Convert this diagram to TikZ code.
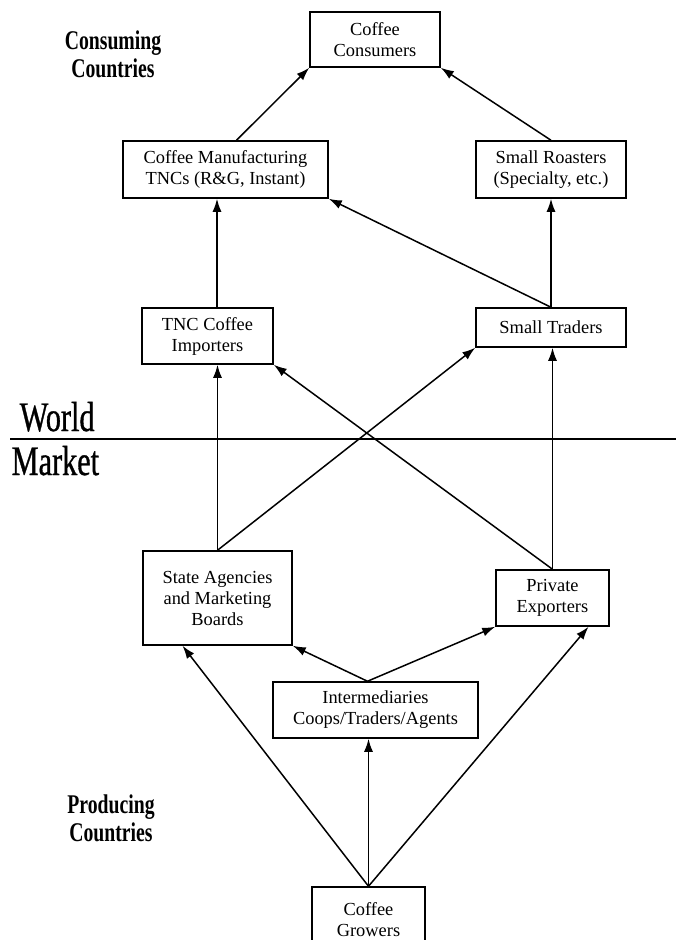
\documentclass[tikz,border=0pt]{standalone}
\usepackage{fontspec}
\setmainfont{Liberation Serif}
\newfontfamily\tallfont[FakeStretch=0.73]{Liberation Serif}
\newfontfamily\heavyfont[FakeStretch=0.72,FakeBold=0.8]{Liberation Serif}
\usetikzlibrary{arrows.meta}
\usetikzlibrary{calc}

\begin{document}
\begin{tikzpicture}[x=1pt, y=-1pt, line width=1.5pt,
  box/.style={draw, align=center, inner sep=0pt, font=\fontsize{18.4}{21}\selectfont},
  flow/.style={-{Latex[length=13pt,width=9pt]}},
  region/.style={align=center, font=\tallfont\bfseries\fontsize{27}{28}\selectfont},
  market/.style={anchor=base west, inner sep=0pt, font=\heavyfont\fontsize{42}{42}\selectfont}]
  \useasboundingbox (0,0) rectangle (676,940);
  \clip (0,0) rectangle (676,940);

  \node[box, minimum width=130, minimum height=55] (cons) at (375,39.5) {Coffee\\Consumers};
  \node[box, minimum width=205, minimum height=57] (manuf) at (225.5,169.5) {Coffee Manufacturing\\TNCs (R\&G, Instant)};
  \node[box, minimum width=150, minimum height=57] (roast) at (551,169.5) {Small Roasters\\(Specialty, etc.)};
  \node[box, minimum width=131, minimum height=56] (imp) at (207.5,336) {TNC Coffee\\Importers};
  \node[box, minimum width=150, minimum height=39] (trad) at (551,327.5) {Small Traders};
  \node[box, minimum width=149, minimum height=94] (state) at (217.5,598) {State Agencies\\and Marketing\\Boards};
  \node[box, minimum width=113, minimum height=56] (priv) at (552.5,598) {Private\\Exporters};
  \node[box, minimum width=205, minimum height=56] (inter) at (375.5,710) {Intermediaries\\Coops/Traders/Agents};
  \node[box, minimum width=113, minimum height=66] (grow) at (368.5,920) {Coffee\\Growers};

  \node[region] (consuming) at (113,54) {Consuming\\Countries};
  \node[region] (producing) at (111,818) {Producing\\Countries};
  \node[market] (world) at (19,431) {World};
  \node[market] (mkt) at (11,475) {Market};
  \coordinate (wl) at (10,439);
  \coordinate (wr) at (676,439);
  \draw[line width=2.2pt] (wl) -- (wr);

  \draw[flow] ([xshift=11pt]manuf.north) -- (cons.south west);
  \draw[flow] (roast.north) -- (cons.south east);
  \draw[flow] ([xshift=9.5pt]imp.north) -- ([xshift=-8.5pt]manuf.south);
  \draw[flow] (trad.north) -- (roast.south);
  \draw[flow] (trad.north) -- (manuf.south east);
  \draw[flow] (state.north) -- (imp.south -| state.north);
  \draw[flow] (state.north) -- (trad.south west);
  \draw[flow] (priv.north) -- (trad.south -| priv.north);
  \draw[flow] (priv.north) -- (imp.south east);
  \coordinate (split) at ([xshift=-8pt]inter.north);
  \draw[flow] (split) -- (state.south east);
  \draw[flow] (split) -- (priv.south west);
  \draw[flow] (grow.north) -- (grow.north |- inter.south);
  \draw[flow] (grow.north) -- ([xshift=-35pt]state.south);
  \draw[flow] (grow.north) -- ([xshift=36pt]priv.south);
\end{tikzpicture}
\end{document}
